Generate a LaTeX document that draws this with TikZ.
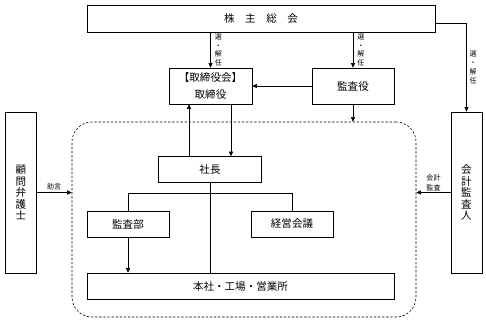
\documentclass[tikz,border=0pt]{standalone}
\usepackage{fontspec}
\setmainfont{Noto Sans CJK JP}
\usetikzlibrary{arrows.meta,calc}

\begin{document}
\begin{tikzpicture}[x=0.03cm,y=-0.03cm,font=\fontsize{9}{10}\selectfont]
\tikzset{
  BX/.style={draw,line width=0.5pt,rectangle,align=center,inner sep=1pt},
  VB/.style={draw,line width=0.5pt,rectangle,minimum width=0.93cm,minimum height=4.83cm,align=center,inner sep=1pt,font=\fontsize{9}{9.8}\selectfont},
  OR/.style={draw,line width=0.5pt,dash pattern=on 2pt off 1.5pt,rounded corners=0.6cm,minimum width=10.32cm,minimum height=5.85cm},
  FL/.style={-{Triangle[length=4pt,width=3.5pt]},line width=0.5pt},
  LN/.style={line width=0.5pt},
  lb/.style={font=\fontsize{6}{7.5}\selectfont,align=center,inner sep=1.5pt},
}
\useasboundingbox (0,0) rectangle (486,322);

\node[BX,minimum width=10.44cm,minimum height=0.81cm](soukai) at (261,18.5){株\quad 主\quad 総\quad 会};

\node[BX,minimum width=2.49cm,minimum height=1.08cm,font=\fontsize{9}{14.5}\selectfont](torishimari) at (210.5,86){【取締役会】\\取締役};
\node[BX,minimum width=2.46cm,minimum height=1.08cm](kansayaku) at (353,86){監査役};

\node[OR](org) at (244,219.5){};
\node[BX,minimum width=3.09cm,minimum height=0.78cm](shacho) at (210,169.5){社長};
\node[BX,minimum width=2.46cm,minimum height=0.78cm](kansabu) at (128,224){監査部};
\node[BX,minimum width=2.46cm,minimum height=0.78cm](keiei) at (292,224){経営会議};
\node[BX,minimum width=9.21cm,minimum height=0.78cm](honsha) at (240.5,286){本社・工場・営業所};

\node[VB](komon) at (21,192.5){顧\\問\\弁\\護\\士};
\node[VB](kaikei) at (466.5,192.5){会\\計\\監\\査\\人};

% shareholders' meeting
\draw[FL](soukai.south -| torishimari.north)--node[lb,right=2pt]{選\\・\\解\\任}(torishimari.north);
\draw[FL](soukai.south -| kansayaku.north)--node[lb,right=2pt]{選\\・\\解\\任}(kansayaku.north);
\draw[FL]([yshift=-0.135cm]soukai.east)-|node[lb,right=1pt,pos=0.75]{選\\・\\解\\任}(kaikei.north);

\draw[FL](kansayaku.west)--(torishimari.east);
\draw[FL](kansayaku.south)--(kansayaku.south |- org.north);

\coordinate(up) at ($(shacho.north)+(-21,0)$);
\coordinate(dn) at ($(torishimari.south)+(20.5,0)$);
\draw[FL](up)--(up |- torishimari.south);
\draw[FL](dn)--(dn |- shacho.north);

% tree below the president
\coordinate(br) at (210,193);
\draw[LN](shacho.south)--(shacho.south |- honsha.north);
\draw[LN](kansabu.north)|-(br)-|(keiei.north);
\draw[FL](kansabu.south)--(kansabu.south |- honsha.north);

\draw[FL](komon.east)--node[lb,above]{助言}(komon.east -| org.west);
\draw[FL](kaikei.west)--node[lb,above,font=\fontsize{6}{8.5}\selectfont]{会計\\監査}(kaikei.west -| org.east);

\end{tikzpicture}
\end{document}
